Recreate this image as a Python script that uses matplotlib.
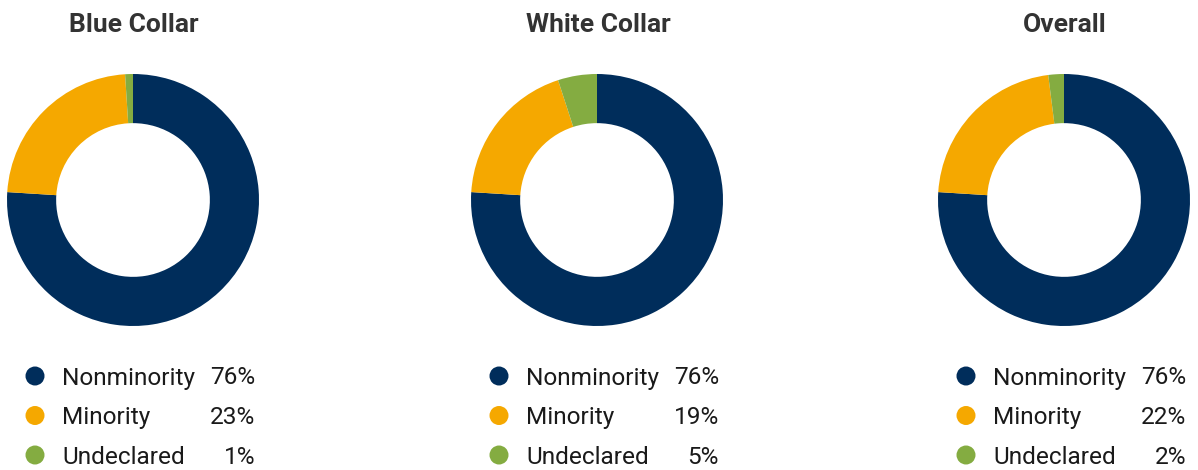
import matplotlib
matplotlib.use("Agg")
import matplotlib.pyplot as plt

titles = ["Blue Collar", "White Collar", "Overall"]
categories = ["Nonminority", "Minority", "Undeclared"]
values = {
    "Blue Collar": [76, 23, 1],
    "White Collar": [76, 19, 5],
    "Overall": [76, 22, 2],
}
pct_labels = {
    "Blue Collar": ["76%", "23%", "1%"],
    "White Collar": ["76%", "19%", "5%"],
    "Overall": ["76%", "22%", "2%"],
}
colors = ["#002D5B", "#F5A800", "#84AC41"]

plt.rcParams['font.family'] = ['Roboto', 'DejaVu Sans']

W, H = 1198, 470
fig = plt.figure(figsize=(W / 100, H / 100), dpi=100)

centers_x = [133, 597, 1064]
cy = 200
R = 126
pct_right = [255, 719, 1186]

for t, cx, pr in zip(titles, centers_x, pct_right):
    ax = fig.add_axes([(cx - R) / W, (H - cy - R) / H, 2 * R / W, 2 * R / H])
    ax.pie(values[t], colors=colors, startangle=90, counterclock=False,
           radius=1.0, wedgeprops=dict(width=0.39, edgecolor='none'))
    ax.set_xlim(-1, 1)
    ax.set_ylim(-1, 1)
    ax.set_aspect('equal')
    ax.axis('off')
    fig.text((cx + 1) / W, (H - 25) / H, t, ha='center', va='center',
             fontsize=19, fontweight='bold', color='#333333')
    for i, (cat, pl) in enumerate(zip(categories, pct_labels[t])):
        y = 376 + i * 39.5
        fig.patches.append(matplotlib.patches.Ellipse(
            ((cx - 98) / W, (H - y) / H), 19 / W, 19 / H,
            transform=fig.transFigure, facecolor=colors[i], edgecolor='none'))
        fig.text((cx - 71) / W, (H - y - 2) / H, cat, ha='left', va='center',
                 fontsize=17.6, color='#1a1a1a')
        fig.text(pr / W, (H - y - 2) / H, pl, ha='right', va='center',
                 fontsize=17.6, color='#1a1a1a')

fig.savefig("out.png", dpi=100)
